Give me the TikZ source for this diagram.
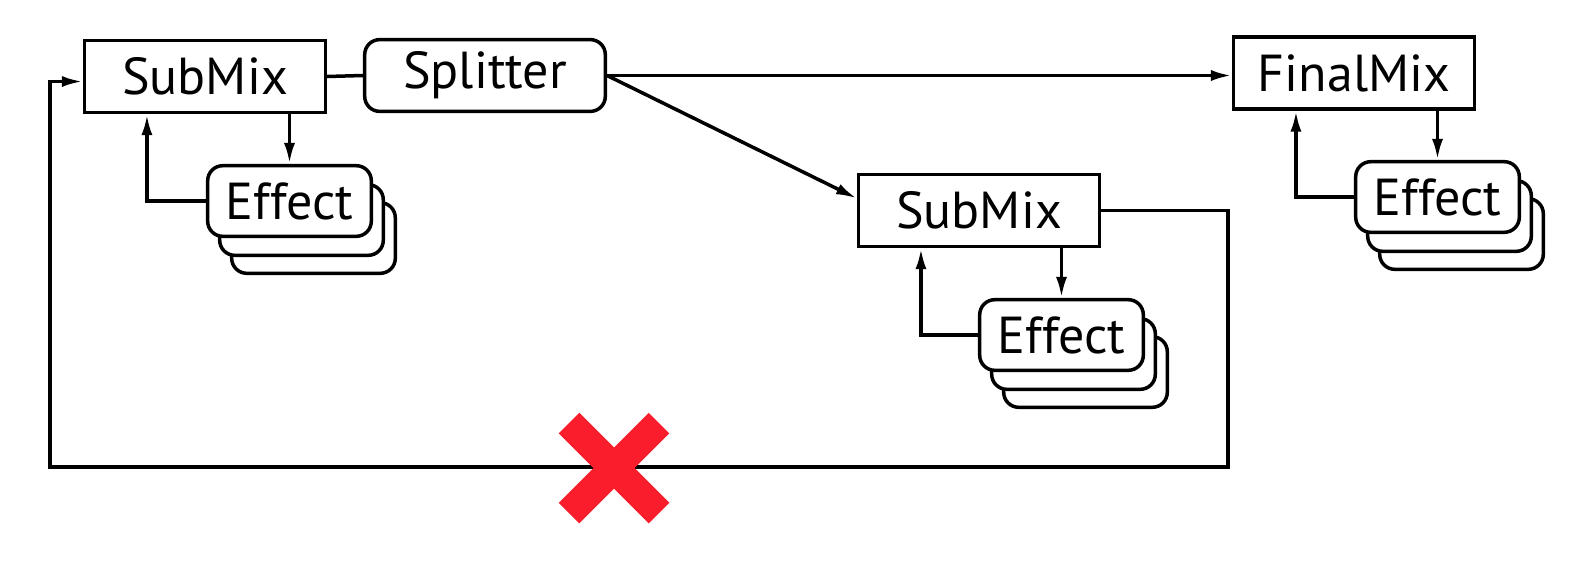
\documentclass[tikz,border=0pt]{standalone}
\usepackage{fontspec}
\setmainfont{PT Sans}
\usetikzlibrary{arrows.meta,calc}
\definecolor{xred}{RGB}{250,30,45}
\begin{document}
\begin{tikzpicture}[x=0.5pt,y=-0.5pt,
  lw/.style={line width=1.75pt},
  lbl/.style={font=\fontsize{26}{30}\selectfont},
  mixbox/.style={draw,lw,lbl,fill=white,minimum width=120.3pt,minimum height=35.9pt,inner sep=0pt},
  splitbox/.style={mixbox,rounded corners=7.5pt},
  effbox/.style={draw,lw,lbl,fill=white,rounded corners=7.5pt,minimum width=81.8pt,minimum height=35.3pt,inner sep=0pt},
  conn/.style={lw},
  arr/.style={lw,-{Latex[length=10.5pt,width=5.5pt]}},
]
\useasboundingbox (0,0) rectangle (1590,563);

% main boxes
\node[mixbox] (sm1) at (205,76.5) {SubMix};
\node[splitbox] (split) at (485,75.5) {Splitter};
\node[mixbox] (fm) at (1354,73) {FinalMix};
\node[mixbox] (sm2) at (979,210.5) {SubMix};

% effect stacks
\foreach \n/\cx/\cy in {e1/289.5/201, e2/1061.5/335, e3/1437.5/197}{
  \node[effbox] (\n c) at (\cx+24,\cy+37) {};
  \node[effbox] (\n b) at (\cx+12,\cy+19) {};
}
\node[effbox] (e1) at (289.5,201) {Effect};
\node[effbox] (e2) at (1061.5,335) {Effect};
\node[effbox] (e3) at (1437.5,197) {Effect};

% connections
\draw[conn] (sm1.east) -- (split.west);
\draw[arr] (split.east) -- (split.east -| fm.west);
\draw[arr] (split.east) -- ($(sm2.west)+(0,-12)$);

\draw[arr] (sm1.south -| e1.north) -- (e1.north);
\draw[arr] (e1.west) -| ($(sm1.south west)+(64,0)$);
\draw[arr] (sm2.south -| e2.north) -- (e2.north);
\draw[arr] (e2.west) -| ($(sm2.south west)+(64,0)$);
\draw[arr] (fm.south -| e3.north) -- (e3.north);
\draw[arr] (e3.west) -| ($(fm.south west)+(64,0)$);

% feedback
\coordinate (fbR) at (1228,467);
\coordinate (fbL) at (50,467);
\draw[arr] (sm2.east) -| (fbR) -- (fbL) |- ($(sm1.west)+(0,5)$);

% red cross
\draw[xred,line width=14.5pt] (569,423) -- (659,513);
\draw[xred,line width=14.5pt] (569,513) -- (659,423);
\end{tikzpicture}
\end{document}
